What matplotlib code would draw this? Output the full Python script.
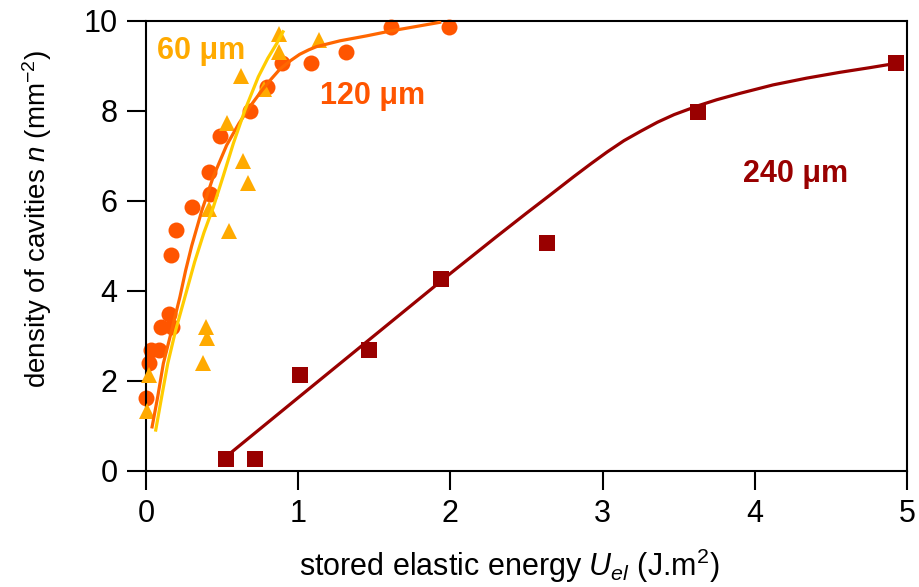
import matplotlib
matplotlib.use("Agg")
import matplotlib.pyplot as plt

plt.rcParams['font.family'] = ['Liberation Sans', 'DejaVu Sans']
plt.rcParams['mathtext.fontset'] = 'custom'
plt.rcParams['mathtext.rm'] = 'Liberation Sans'
plt.rcParams['mathtext.it'] = 'Liberation Sans:italic'

# 60 um (triangles)
x60 = [0.005, 0.02, 0.372, 0.394, 0.403, 0.416, 0.53, 0.545, 0.624, 0.635,
       0.672, 0.775, 0.874, 0.876, 1.137]
y60 = [1.33, 2.13, 2.41, 3.19, 2.95, 5.82, 7.73, 5.34, 8.78, 6.9,
       6.41, 8.5, 9.72, 9.32, 9.58]
fit60_x = [0.064, 0.103, 0.143, 0.195, 0.256, 0.32, 0.381, 0.442, 0.508, 0.574,
           0.65, 0.738, 0.8, 0.859, 0.9]
fit60_y = [0.91, 1.65, 2.39, 3.13, 3.87, 4.65, 5.3, 5.86, 6.56, 7.28,
           8.02, 8.76, 9.17, 9.5, 9.76]

# 120 um (circles)
x120 = [0.0, 0.022, 0.031, 0.087, 0.097, 0.169, 0.151, 0.166, 0.195, 0.30,
        0.42, 0.416, 0.486, 0.683, 0.793, 0.892, 1.084, 1.314, 1.61, 1.993]
y120 = [1.62, 2.41, 2.69, 2.69, 3.21, 3.21, 3.48, 4.8, 5.36, 5.87,
        6.15, 6.65, 7.45, 8.01, 8.53, 9.06, 9.06, 9.32, 9.86, 9.86]
fit120_x = [0.04, 0.077, 0.114, 0.169, 0.223, 0.26, 0.30, 0.366, 0.442, 0.53,
            0.61, 0.683, 0.76, 0.82, 0.88, 0.95, 1.01, 1.07, 1.12, 1.275,
            1.45, 1.61, 1.93]
fit120_y = [0.98, 1.65, 2.39, 3.13, 3.87, 4.45, 5.0, 5.78, 6.54, 7.24,
            7.72, 8.1, 8.45, 8.7, 8.93, 9.12, 9.26, 9.36, 9.43, 9.56,
            9.67, 9.78, 9.97]

# 240 um (squares)
x240 = [0.526, 0.716, 1.01, 1.465, 1.938, 2.635, 3.625, 4.93]
y240 = [0.27, 0.27, 2.13, 2.69, 4.27, 5.07, 7.98, 9.06]
fit240_x = [0.53, 1.0, 1.5, 2.0, 2.3, 2.5, 2.65, 2.81, 2.92, 3.03, 3.14, 3.25,
            3.36, 3.47, 3.55, 3.63, 3.75, 3.9, 4.12, 4.34, 4.56, 4.75, 4.93]
fit240_y = [0.33, 1.63, 3.01, 4.39, 5.2, 5.73, 6.12, 6.54, 6.82, 7.09, 7.34, 7.55,
            7.75, 7.92, 8.02, 8.12, 8.25, 8.39, 8.58, 8.73, 8.86, 8.96, 9.06]

c60, c60line = '#FFAA00', '#FFCC00'
c120, c120line = '#FF5500', '#FF6600'
c240 = '#990000'

fig = plt.figure(figsize=(9.2, 5.87), dpi=100)
ax = fig.add_axes([146/920, 1 - 471/587, 761/920, 450/587])

ax.plot(x120, y120, 'o', color=c120, ms=11.5, mew=0, clip_on=False, zorder=2)
ax.plot(x60, y60, '^', color=c60, ms=11, mew=0, clip_on=False, zorder=3)
ax.plot(fit120_x, fit120_y, '-', color=c120line, lw=2.3, zorder=4)
ax.plot(fit60_x, fit60_y, '-', color=c60line, lw=2.3, zorder=5)
ax.plot(fit240_x, fit240_y, '-', color=c240, lw=2.3, zorder=4)
ax.plot(x240, y240, 's', color=c240, ms=11, mew=0, clip_on=False, zorder=6)

ax.text(0.072, 9.33, '60 μm', color=c60, fontsize=22, fontweight='bold', va='center')
ax.text(1.14, 8.34, '120 μm', color=c120, fontsize=22, fontweight='bold', va='center')
ax.text(3.92, 6.61, '240 μm', color=c240, fontsize=22, fontweight='bold', va='center')

ax.set_xlim(0, 5)
ax.set_ylim(0, 10)
ax.set_xticks([0, 1, 2, 3, 4, 5])
ax.set_yticks([0, 2, 4, 6, 8, 10])
ax.tick_params(direction='out', length=13.5, width=1.5, labelsize=22, pad=7)
for s in ax.spines.values():
    s.set_linewidth(1.5)

ax.set_xlabel('stored elastic energy $U_{el}$ (J.m$^2$)', fontsize=22, va='center')
ax.xaxis.set_label_coords(0.478, -0.211)
ax.set_ylabel('density of cavities $n$ (mm$^{-2}$)', fontsize=20, va='center', ha='center')
ax.yaxis.set_label_coords(-0.143, 0.56)

fig.savefig('out.png', dpi=100)
